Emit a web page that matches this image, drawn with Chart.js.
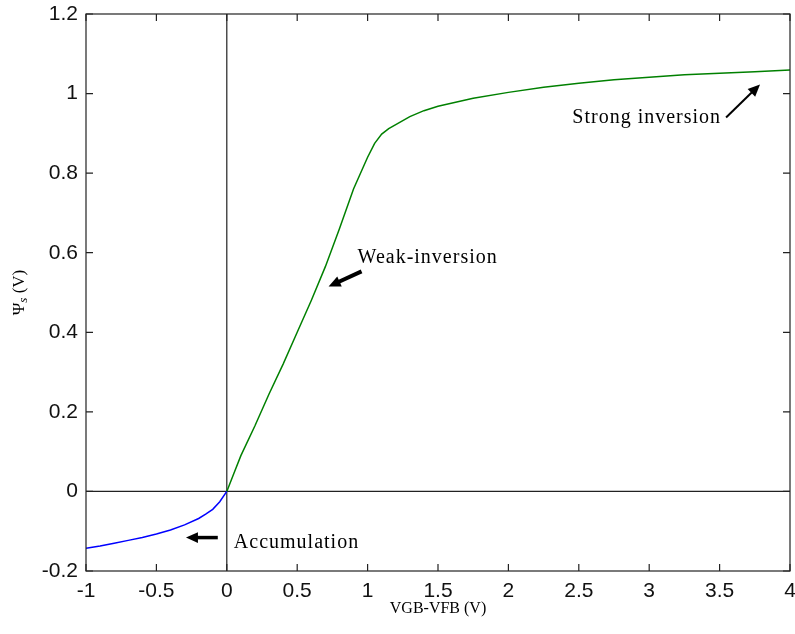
<!DOCTYPE html>
<html>
<head>
<meta charset="utf-8">
<script src="https://cdn.jsdelivr.net/npm/chart.js@4.4.0/dist/chart.umd.min.js"></script>
<style>
  body { margin: 0; background: #fff; }
  #wrap { width: 795px; height: 634px; position: relative; }
</style>
</head>
<body>
<div id="wrap"><canvas id="myChart"></canvas></div>
<script>
// accumulation branch (blue)
const vgbAccum = [-1.0, -0.9, -0.8, -0.7, -0.6, -0.5, -0.4, -0.3, -0.2, -0.15, -0.1, -0.05, 0];
const psiAccum = [-0.143, -0.137, -0.130, -0.123, -0.116, -0.107, -0.097, -0.084, -0.068, -0.057, -0.045, -0.026, 0];

// weak + strong inversion branch (green)
const vgbInv = [0, 0.05, 0.1, 0.2, 0.3, 0.4, 0.5, 0.6, 0.7, 0.8, 0.9, 1.0, 1.05, 1.1, 1.15, 1.2, 1.3, 1.4, 1.5,
  1.75, 2.0, 2.25, 2.5, 2.75, 3.0, 3.25, 3.5, 3.75, 4.0];
const psiInv = [0, 0.045, 0.09, 0.165, 0.245, 0.32, 0.40, 0.48, 0.565, 0.66, 0.76, 0.84, 0.875, 0.898, 0.912, 0.922,
  0.942, 0.957, 0.968, 0.988, 1.003, 1.016, 1.026, 1.035, 1.041, 1.047, 1.051, 1.055, 1.059];

// tick labels
const xTicks = [-1, -0.5, 0, 0.5, 1, 1.5, 2, 2.5, 3, 3.5, 4];
const yTicks = [-0.2, 0, 0.2, 0.4, 0.6, 0.8, 1, 1.2];

// annotations (data units)
const noteLabels = ["Accumulation", "Weak-inversion", "Strong inversion"];
const noteTextAt = [[0.05, -0.141], [0.929, 0.573], [2.454, 0.927]];
const arrowFrom = [[-0.064, -0.116], [0.957, 0.553], [3.546, 0.940]];
const arrowTo = [[-0.29, -0.116], [0.723, 0.515], [3.787, 1.023]];

function toPoints(xs, ys) {
  return xs.map((v, i) => ({ x: v, y: ys[i] }));
}

function drawArrow(ctx, x1, y1, x2, y2, w, head) {
  const ang = Math.atan2(y2 - y1, x2 - x1);
  const c = Math.cos(ang), s = Math.sin(ang);
  ctx.lineWidth = w;
  ctx.beginPath();
  ctx.moveTo(x1, y1);
  ctx.lineTo(x2 - c * head * 0.7, y2 - s * head * 0.7);
  ctx.stroke();
  const bx = x2 - c * head, by = y2 - s * head;
  const hw = head * 0.45;
  ctx.beginPath();
  ctx.moveTo(x2, y2);
  ctx.lineTo(bx - s * hw, by + c * hw);
  ctx.lineTo(bx + s * hw, by - c * hw);
  ctx.closePath();
  ctx.fill();
}

const boxPlugin = {
  id: "box",
  beforeDatasetsDraw(chart) {
    const { ctx, chartArea: a, scales: { x, y } } = chart;
    ctx.save();
    ctx.strokeStyle = "#222";
    ctx.lineWidth = 1.2;
    const x0 = x.getPixelForValue(0);
    const y0 = y.getPixelForValue(0);
    ctx.beginPath();
    ctx.moveTo(x0, a.top);
    ctx.lineTo(x0, a.bottom);
    ctx.moveTo(a.left, y0);
    ctx.lineTo(a.right, y0);
    ctx.stroke();
    ctx.restore();
  },
  afterDraw(chart) {
    const { ctx, chartArea: a, scales: { x, y } } = chart;
    ctx.save();
    ctx.strokeStyle = "#222";
    ctx.fillStyle = "#000";
    ctx.lineWidth = 1.2;
    ctx.strokeRect(a.left, a.top, a.right - a.left, a.bottom - a.top);

    // inward ticks on all four sides
    const tl = 7;
    ctx.beginPath();
    xTicks.forEach((v) => {
      const px = x.getPixelForValue(v);
      ctx.moveTo(px, a.bottom); ctx.lineTo(px, a.bottom - tl);
      ctx.moveTo(px, a.top); ctx.lineTo(px, a.top + tl);
    });
    yTicks.forEach((v) => {
      const py = y.getPixelForValue(v);
      ctx.moveTo(a.left, py); ctx.lineTo(a.left + tl, py);
      ctx.moveTo(a.right, py); ctx.lineTo(a.right - tl, py);
    });
    ctx.stroke();

    // annotations
    ctx.font = "20px 'Liberation Serif'";
    ctx.letterSpacing = "1px";
    ctx.textBaseline = "alphabetic";
    ctx.textAlign = "left";
    noteLabels.forEach((t, i) => {
      ctx.fillText(t, x.getPixelForValue(noteTextAt[i][0]), y.getPixelForValue(noteTextAt[i][1]));
    });
    ctx.letterSpacing = "0px";
    ctx.strokeStyle = "#000";
    const widths = [3.5, 4, 2];
    arrowFrom.forEach((p, i) => {
      drawArrow(ctx,
        x.getPixelForValue(p[0]), y.getPixelForValue(p[1]),
        x.getPixelForValue(arrowTo[i][0]), y.getPixelForValue(arrowTo[i][1]),
        widths[i], 12);
    });

    // y axis title: Psi_s (V)
    ctx.translate(20, (a.top + a.bottom) / 2);
    ctx.rotate(-Math.PI / 2);
    ctx.textBaseline = "middle";
    const f1 = "17px 'Liberation Serif'";
    const f2 = "italic 13px 'Liberation Serif'";
    ctx.font = f1;
    const w1 = ctx.measureText("\u03A8").width;
    const w3 = ctx.measureText(" (V)").width;
    ctx.font = f2;
    const w2 = ctx.measureText("s").width;
    let cx = -(w1 + w2 + w3) / 2;
    ctx.font = f1;
    ctx.fillText("\u03A8", cx, 0);
    cx += w1;
    ctx.font = f2;
    ctx.fillText("s", cx, 4);
    cx += w2;
    ctx.font = f1;
    ctx.fillText(" (V)", cx, 0);
    ctx.restore();
  }
};

const ctx = document.getElementById("myChart").getContext("2d");
const myChart = new Chart(ctx, {
  type: "scatter",
  data: {
    datasets: [
      {
        data: toPoints(vgbAccum, psiAccum),
        showLine: true,
        borderColor: "#0000ff",
        borderWidth: 1.5,
        pointRadius: 0,
        tension: 0
      },
      {
        data: toPoints(vgbInv, psiInv),
        showLine: true,
        borderColor: "#008000",
        borderWidth: 1.5,
        pointRadius: 0,
        tension: 0
      }
    ]
  },
  options: {
    responsive: true,
    maintainAspectRatio: false,
    animation: false,
    layout: { padding: { top: 14, right: 5, left: 0, bottom: 0 } },
    plugins: { legend: { display: false }, tooltip: { enabled: false } },
    scales: {
      x: {
        type: "linear",
        min: -1,
        max: 4,
        afterBuildTicks: (s) => { s.ticks = xTicks.map((v) => ({ value: v })); },
        afterFit: (s) => {
          s.height = 63;
          s.paddingLeft = 0; s.paddingRight = 0;
        },
        grid: { display: false, drawTicks: false },
        border: { display: false },
        ticks: {
          padding: 8,
          color: "#111",
          font: { family: "'Liberation Sans'", size: 21 },
          maxRotation: 0,
          autoSkip: false,
          callback: (v) => String(Number(v.toFixed(1)))
        },
        title: {
          display: true,
          text: "VGB-VFB (V)",
          color: "#000",
          font: { family: "'Liberation Serif'", size: 16 },
          padding: { top: 0, bottom: 16 }
        }
      },
      y: {
        type: "linear",
        min: -0.2,
        max: 1.2,
        afterBuildTicks: (s) => { s.ticks = yTicks.map((v) => ({ value: v })); },
        afterFit: (s) => {
          s.width = 86;
          s.paddingTop = 0; s.paddingBottom = 0;
        },
        grid: { display: false, drawTicks: false },
        border: { display: false },
        ticks: {
          padding: 8,
          color: "#111",
          font: { family: "'Liberation Sans'", size: 21 },
          autoSkip: false,
          callback: (v) => String(Number(v.toFixed(1)))
        }
      }
    }
  },
  plugins: [boxPlugin]
});
</script>
</body>
</html>
